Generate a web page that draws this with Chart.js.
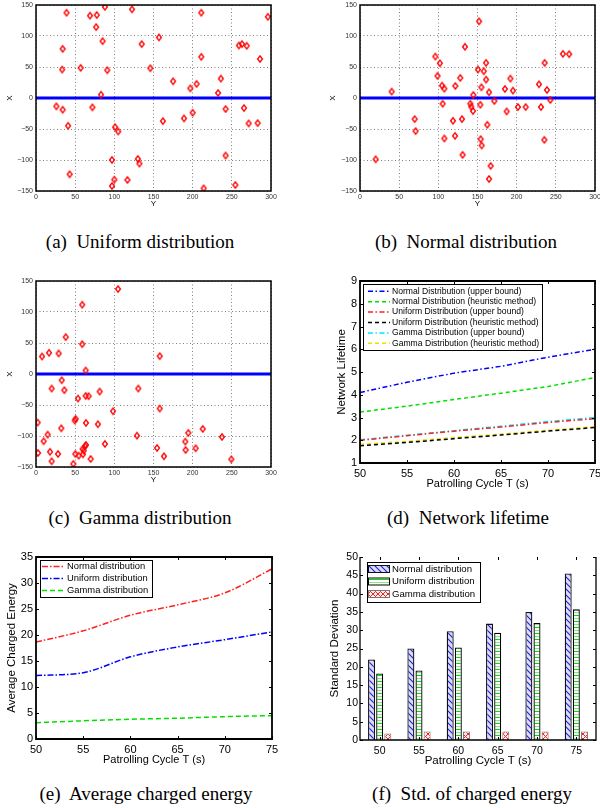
<!DOCTYPE html>
<html>
<head>
<meta charset="utf-8">
<script src="https://cdn.jsdelivr.net/npm/chart.js@4/dist/chart.umd.min.js"></script>
<style>
body { margin: 0; background: #fff; width: 600px; height: 808px; position: relative; overflow: hidden; }
canvas { position: absolute; }
.cap { position: absolute; font-family: "Liberation Serif", "Times New Roman", serif; font-size: 19px; color: #000; white-space: pre; transform: translateX(-50%); line-height: 1; }
</style>
</head>
<body>
<div class="cap" style="left:140px;top:232px">(a)  Uniform distribution</div>
<div class="cap" style="left:466px;top:232px">(b)  Normal distribution</div>
<div class="cap" style="left:140px;top:508px">(c)  Gamma distribution</div>
<div class="cap" style="left:468px;top:508px">(d)  Network lifetime</div>
<div class="cap" style="left:146px;top:784px">(e)  Average charged energy</div>
<div class="cap" style="left:472px;top:784px">(f)  Std. of charged energy</div>
<script>
// ---- scatter panels: horizontal value (axis "Y") and vertical value (axis "X")
const uniformY = [39, 69, 77.6, 88, 122.6, 211, 296, 76.8, 85, 135, 157, 34, 259, 263, 269, 286, 211, 33.5, 57, 91, 146, 175, 197, 205, 236, 232.5, 83, 26, 34, 72, 41, 101, 105, 162, 189, 200, 242, 265.6, 271.5, 283, 97, 130, 132, 242, 43, 100, 97, 116.7, 214, 254.5];
const uniformX = [137.6, 132.8, 133.8, 147, 143, 137.6, 131, 114.4, 91.7, 86.9, 97.7, 79.3, 84.7, 86.9, 84.2, 63, 66.4, 45.9, 48.6, 44.8, 48, 27, 15.6, 22.7, 31.3, 8.1, 5.4, -13.5, -18.9, -15.1, -44.8, -47, -54, -37.2, -32.9, -23.7, -17.8, -16.2, -41, -40.5, -99.8, -98.2, -105.8, -92.8, -123, -131.7, -142, -132.2, -145.7, -140.3];

const normalY = [20, 40.4, 69.8, 71, 96.2, 102, 99, 104.7, 107.7, 105.5, 107.7, 121.7, 128, 118.7, 121.3, 130.2, 131, 134, 152, 150.6, 158, 161, 161, 155, 164.7, 144.7, 140.9, 142, 144.3, 153.6, 171.5, 162.5, 154, 155.3, 166.8, 164.7, 185, 192, 195.3, 187.2, 201.7, 211.5, 228.5, 231, 235.7, 238.7, 243, 235.3, 259, 267];
const normalX = [-98.8, 10.3, -34, -53.4, 66.9, 56.1, 35.6, 20, 15.1, -9.2, -65.3, 19.4, 32.4, -36.7, -61, -34, -91.7, 82.6, 123.6, 45.9, 43.2, 56.7, 29.7, 17.3, 9.2, 4.9, -9.2, -14, -21, -10.8, -4.9, -43.2, -66.4, -76.6, -109.5, -130.6, 14.6, 31.3, 11.9, -21.6, -14.6, -14.6, 22.1, -14.6, 56.7, 13, -3.2, -67.5, 71.2, 70.7];

const gammaY = [104.7, 59, 37.9, 59, 7.7, 16.6, 28.9, 157.9, 63.4, 32.8, 20, 36.2, 53.6, 63.4, 67.2, 81.3, 130.6, 98.3, 157.9, 2.1, 49.4, 50.6, 63.8, 32.3, 79, 14.9, 9.8, 17.9, 2.6, 20, 28.1, 50.2, 54.5, 60, 60.9, 62.6, 63.8, 59.6, 69.8, 47.7, 88, 128.9, 154.5, 163.4, 190.6, 191, 194.5, 203.8, 212.8, 237.4, 249.4];
const gammaX = [137, 111.7, 59.5, 48.1, 28.3, 34.2, 33.1, 28.8, 5.7, -10, -23.4, -26.1, -39.6, -35.3, -35.8, -28.3, -23.4, -60, -55.7, -78.3, -75.1, -72.4, -78.9, -87.6, -81, -97.7, -108.4, -125.5, -127.4, -140.8, -129, -129, -131.7, -129.5, -123.6, -116.6, -114.5, -120.9, -137, -145, -112.8, -99.4, -119.3, -132.7, -109, -122.5, -95, -119.8, -88.6, -101.5, -137.6];

// horizontal reference line drawn in each scatter panel
const refLineY = [0, 300];
const refLineX = [0, 0];

// ---- patrolling cycle panels
const cycles = [50, 55, 60, 65, 70, 75];

const normalUpper = [4.1, 4.55, 4.95, 5.25, 5.65, 6.0];
const normalHeur = [3.24, 3.5, 3.79, 4.07, 4.36, 4.76];
const uniformUpper = [2.0, 2.2, 2.4, 2.58, 2.78, 2.95];
const uniformHeur = [1.76, 1.9, 2.07, 2.23, 2.4, 2.56];
const gammaUpper = [2.02, 2.22, 2.42, 2.62, 2.82, 3.0];
const gammaHeur = [1.82, 1.95, 2.12, 2.27, 2.44, 2.6];

const energyNormal = [18.65, 20.8, 23.8, 25.8, 28.1, 32.7];
const energyUniform = [12.2, 12.75, 15.8, 17.7, 19.1, 20.6];
const energyGamma = [3.14, 3.5, 3.8, 4.0, 4.3, 4.5];

const stdNormal = [22, 25, 29.7, 31.8, 35, 45.5];
const stdUniform = [18.2, 19, 25.3, 29.3, 32, 35.7];
const stdGamma = [1.8, 2.3, 2.3, 2.3, 2.3, 2.3];

Chart.defaults.font.family = '"Liberation Sans", Arial, sans-serif';
Chart.defaults.color = '#000';

// canvas placed so that the plot area lands on L,T,R,B of the page
function place(L, T, R, B, yw, xh, pt, pr) {
    const c = document.createElement('canvas');
    const w = (R - L) + yw + pr, h = (B - T) + pt + xh;
    c.width = w; c.height = h;
    c.style.left = (L - yw) + 'px';
    c.style.top = (T - pt) + 'px';
    c.style.width = w + 'px';
    c.style.height = h + 'px';
    document.body.appendChild(c);
    return c;
}

function linAxis(pos, min, max, step, o) {
    return {
        type: 'linear', position: pos, min: min, max: max,
        ticks: {
            stepSize: step, font: { size: o.fs }, color: o.tc || '#000', padding: o.tp,
            maxRotation: 0, autoSkip: false,
            callback: v => String(v).replace('-', '\u2212')
        },
        grid: { display: !!o.grid, drawTicks: false, color: '#808080', lineWidth: 1 },
        border: { display: false, dash: o.grid ? [1, 2.5] : [] },
        title: { display: true, text: o.title, font: { size: o.tfs }, padding: 0, color: '#000' },
        afterFit: s => {
            if (pos === 'left') s.width = o.size; else s.height = o.size;
            s.paddingLeft = s.paddingRight = s.paddingTop = s.paddingBottom = 0;
        }
    };
}

// black box round the plot area, with inward tick marks
const framePlugin = {
    id: 'frame',
    afterDraw(chart, args, o) {
        const { ctx, chartArea: a, scales } = chart;
        ctx.save();
        ctx.strokeStyle = '#000';
        if (o.tick) {
            ctx.lineWidth = 1;
            ctx.beginPath();
            scales.x.ticks.forEach((t, i) => {
                const px = Math.round(scales.x.getPixelForTick(i)) + 0.5;
                ctx.moveTo(px, a.bottom); ctx.lineTo(px, a.bottom - o.tick);
                ctx.moveTo(px, a.top); ctx.lineTo(px, a.top + o.tick);
            });
            scales.y.ticks.forEach((t, i) => {
                const py = Math.round(scales.y.getPixelForTick(i)) + 0.5;
                ctx.moveTo(a.left, py); ctx.lineTo(a.left + o.tick, py);
                ctx.moveTo(a.right, py); ctx.lineTo(a.right - o.tick, py);
            });
            ctx.stroke();
        }
        ctx.lineWidth = o.width || 1.5;
        ctx.beginPath();
        ctx.moveTo(a.left, a.top); ctx.lineTo(a.left, a.bottom); ctx.lineTo(a.right, a.bottom); ctx.lineTo(a.right, a.top);
        if (o.top !== false) ctx.closePath();
        ctx.stroke();
        ctx.restore();
    }
};

// MATLAB style legend box inside the plot
const boxLegend = {
    id: 'boxLegend',
    afterDraw(chart, args, o) {
        if (!o.w) return;
        const { ctx, chartArea: a } = chart;
        const x = a.left + o.dx, y = a.top + o.dy;
        ctx.save();
        ctx.fillStyle = '#fff';
        ctx.fillRect(x, y, o.w, o.h);
        ctx.strokeStyle = '#000'; ctx.lineWidth = 1;
        ctx.strokeRect(x + 0.5, y + 0.5, o.w, o.h);
        ctx.font = o.fs + 'px "Liberation Sans", Arial, sans-serif';
        ctx.textBaseline = 'middle';
        chart.data.datasets.forEach((ds, i) => {
            const ry = a.top + o.row0 + i * o.gap;
            if (o.swatch) {
                ctx.fillStyle = ds.backgroundColor;
                ctx.fillRect(a.left + o.s0, ry - 3.5, o.s1 - o.s0, 7);
                ctx.strokeStyle = ds.borderColor; ctx.lineWidth = 1;
                ctx.strokeRect(a.left + o.s0 + 0.5, ry - 3.5, o.s1 - o.s0, 7);
            } else {
                ctx.strokeStyle = ds.borderColor; ctx.lineWidth = ds.borderWidth;
                ctx.setLineDash(ds.borderDash || []);
                ctx.beginPath();
                ctx.moveTo(a.left + o.s0, ry); ctx.lineTo(a.left + o.s1, ry);
                ctx.stroke();
                ctx.setLineDash([]);
            }
            ctx.fillStyle = '#000';
            ctx.fillText(ds.label, a.left + o.tx, ry);
        });
        ctx.restore();
    }
};

function diamondImage() {
    const c = document.createElement('canvas');
    c.width = 8; c.height = 10;
    const g = c.getContext('2d');
    g.strokeStyle = '#ff0000'; g.lineWidth = 1.4;
    g.beginPath();
    g.moveTo(4, 1.8); g.lineTo(6.4, 5); g.lineTo(4, 8.2); g.lineTo(1.6, 5);
    g.closePath(); g.stroke();
    return c;
}
const diamond = diamondImage();

function scatterPanel(L, T, R, B, yw, xh, pr, hs, vs) {
    const canvas = place(L, T, R, B, yw, xh, 5, pr);
    const pts = hs.map((h, i) => ({ x: h, y: vs[i] }));
    const ref = refLineY.map((h, i) => ({ x: h, y: refLineX[i] }));
    return new Chart(canvas, {
        type: 'scatter',
        data: {
            datasets: [
                { data: pts, pointStyle: diamond, pointRadius: 3 },
                { type: 'line', data: ref, borderColor: '#0000ff', borderWidth: 3, pointRadius: 0 }
            ]
        },
        options: {
            responsive: false, animation: false, events: [], devicePixelRatio: 1,
            layout: { padding: { top: 5, right: pr, left: 0, bottom: 0 }, autoPadding: false },
            plugins: { legend: { display: false }, tooltip: { enabled: false }, frame: { width: 1.5 } },
            scales: {
                x: linAxis('bottom', 0, 300, 50, { fs: 7, tc: '#333', tp: 2, grid: true, title: 'Y', tfs: 8, size: xh }),
                y: linAxis('left', -150, 150, 50, { fs: 7, tc: '#333', tp: 3, grid: true, title: 'X', tfs: 8, size: yw })
            }
        },
        plugins: [framePlugin]
    });
}

// -------------- (a) (b) (c) scatter --------------
scatterPanel(36, 5, 271, 191, 31, 18, 8, uniformY, uniformX);
scatterPanel(360, 5, 595, 191, 32, 18, 5, normalY, normalX);
scatterPanel(36, 281, 271, 467, 31, 18, 8, gammaY, gammaX);

// -------------- (d) network lifetime --------------
const xy = arr => arr.map((v, i) => ({ x: cycles[i], y: v }));
const dashDot = [5, 2.5, 1.5, 2.5];
const dashed = [4, 3];
new Chart(place(360, 281, 595, 463, 25, 28, 8, 5), {
    type: 'line',
    data: {
        datasets: [
            { label: 'Normal Distribution (upper bound)', data: xy(normalUpper), borderColor: '#0000ff', borderDash: dashDot },
            { label: 'Normal Distribution (heuristic method)', data: xy(normalHeur), borderColor: '#00e000', borderDash: dashed },
            { label: 'Uniform Distribution (upper bound)', data: xy(uniformUpper), borderColor: '#ff2020', borderDash: dashDot },
            { label: 'Uniform Distribution (heuristic method)', data: xy(uniformHeur), borderColor: '#000000', borderDash: dashed },
            { label: 'Gamma Distribution (upper bound)', data: xy(gammaUpper), borderColor: '#00e8ff', borderDash: dashDot },
            { label: 'Gamma Distribution (heuristic method)', data: xy(gammaHeur), borderColor: '#f0e000', borderDash: dashed }
        ].map(d => Object.assign(d, { borderWidth: 1.5, pointRadius: 0, fill: false }))
    },
    options: {
        responsive: false, animation: false, events: [], devicePixelRatio: 1,
        layout: { padding: { top: 8, right: 5, left: 0, bottom: 0 }, autoPadding: false },
        plugins: {
            legend: { display: false }, tooltip: { enabled: false },
            frame: { width: 1.8, tick: 3 },
            boxLegend: { dx: 3, dy: 3, w: 179, h: 66, row0: 10.3, gap: 10.4, s0: 8, s1: 30, tx: 32, fs: 8.6 }
        },
        scales: {
            x: linAxis('bottom', 50, 75, 5, { fs: 11, tp: 4, title: 'Patrolling Cycle T (s)', tfs: 11, size: 28 }),
            y: linAxis('left', 1, 9, 1, { fs: 11, tp: 3, title: 'Network Lifetime', tfs: 11.5, size: 25 })
        }
    },
    plugins: [framePlugin, boxLegend]
});

// -------------- (e) average charged energy --------------
new Chart(place(36, 557, 272, 739, 31, 28, 8, 8), {
    type: 'line',
    data: {
        datasets: [
            { label: 'Normal distribution', data: xy(energyNormal), borderColor: '#ff2020', borderDash: [6, 2, 1.5, 2] },
            { label: 'Uniform distribution', data: xy(energyUniform), borderColor: '#0000ff', borderDash: [6, 2, 1.5, 2] },
            { label: 'Gamma distribution', data: xy(energyGamma), borderColor: '#00e000', borderDash: [5, 3] }
        ].map(d => Object.assign(d, { borderWidth: 1.5, pointRadius: 0, fill: false, cubicInterpolationMode: 'monotone' }))
    },
    options: {
        responsive: false, animation: false, events: [], devicePixelRatio: 1,
        layout: { padding: { top: 8, right: 8, left: 0, bottom: 0 }, autoPadding: false },
        plugins: {
            legend: { display: false }, tooltip: { enabled: false },
            frame: { width: 1.8, tick: 3 },
            boxLegend: { dx: 4, dy: 3, w: 112, h: 37, row0: 9.5, gap: 12, s0: 6, s1: 29, tx: 31, fs: 9.4 }
        },
        scales: {
            x: linAxis('bottom', 50, 75, 5, { fs: 11, tp: 4, title: 'Patrolling Cycle T (s)', tfs: 11, size: 28 }),
            y: linAxis('left', 0, 35, 5, { fs: 11, tp: 3, title: 'Average Charged Energy', tfs: 11.5, size: 31 })
        }
    },
    plugins: [framePlugin, boxLegend]
});

// -------------- (f) std of charged energy --------------
function pattern(w, h, draw) {
    const c = document.createElement('canvas');
    c.width = w; c.height = h;
    const g = c.getContext('2d');
    draw(g);
    return g.createPattern(c, 'repeat');
}
const hatchNormal = pattern(6, 6, g => {
    g.fillStyle = '#dcdcf6'; g.fillRect(0, 0, 6, 6);
    g.strokeStyle = '#2020e0'; g.lineWidth = 1.1;
    g.beginPath();
    g.moveTo(-1, -1); g.lineTo(7, 7);
    g.moveTo(-1, 5); g.lineTo(1, 7);
    g.moveTo(5, -1); g.lineTo(7, 1);
    g.stroke();
});
const hatchUniform = pattern(4, 6, g => {
    g.fillStyle = '#ffffff'; g.fillRect(0, 0, 4, 6);
    g.fillStyle = '#00dd00'; g.fillRect(0, 0, 4, 1);
    g.fillStyle = '#80ea80'; g.fillRect(0, 3, 4, 1);
});
const hatchGamma = pattern(5, 5, g => {
    g.fillStyle = '#fff0f0'; g.fillRect(0, 0, 5, 5);
    g.strokeStyle = '#ff2020'; g.lineWidth = 1;
    g.beginPath();
    g.moveTo(0, 0); g.lineTo(5, 5);
    g.moveTo(5, 0); g.lineTo(0, 5);
    g.stroke();
});

new Chart(place(360, 557, 596, 740, 32, 28, 8, 4), {
    type: 'bar',
    data: {
        labels: cycles.map(String),
        datasets: [
            { label: 'Normal distribution', data: stdNormal, backgroundColor: hatchNormal, borderColor: '#111', borderWidth: 1.3 },
            { label: 'Uniform distribution', data: stdUniform, backgroundColor: hatchUniform, borderColor: '#000', borderWidth: 1.3 },
            { label: 'Gamma distribution', data: stdGamma, backgroundColor: hatchGamma, borderColor: '#777', borderWidth: 1 }
        ].map(d => Object.assign(d, { categoryPercentage: 0.62, barPercentage: 0.86 }))
    },
    options: {
        responsive: false, animation: false, events: [], devicePixelRatio: 1,
        layout: { padding: { top: 8, right: 4, left: 0, bottom: 0 }, autoPadding: false },
        plugins: {
            legend: { display: false }, tooltip: { enabled: false },
            frame: { width: 1.3, tick: 3, top: false },
            boxLegend: { dx: 7, dy: 5, w: 113, h: 40, row0: 12, gap: 12.5, s0: 8, s1: 29, tx: 32, fs: 9.6, swatch: true }
        },
        scales: {
            x: {
                type: 'category', position: 'bottom', offset: true,
                ticks: { font: { size: 10.5 }, padding: 5, maxRotation: 0 },
                grid: { display: false, drawTicks: false },
                border: { display: false },
                title: { display: true, text: 'Patrolling Cycle T (s)', font: { size: 11.5 }, padding: 0 },
                afterFit: s => { s.height = 28; s.paddingLeft = s.paddingRight = 0; }
            },
            y: linAxis('left', 0, 50, 5, { fs: 10.5, tp: 2, title: 'Standard Deviation', tfs: 11.5, size: 32 })
        }
    },
    plugins: [framePlugin, boxLegend]
});
</script>
</body>
</html>
